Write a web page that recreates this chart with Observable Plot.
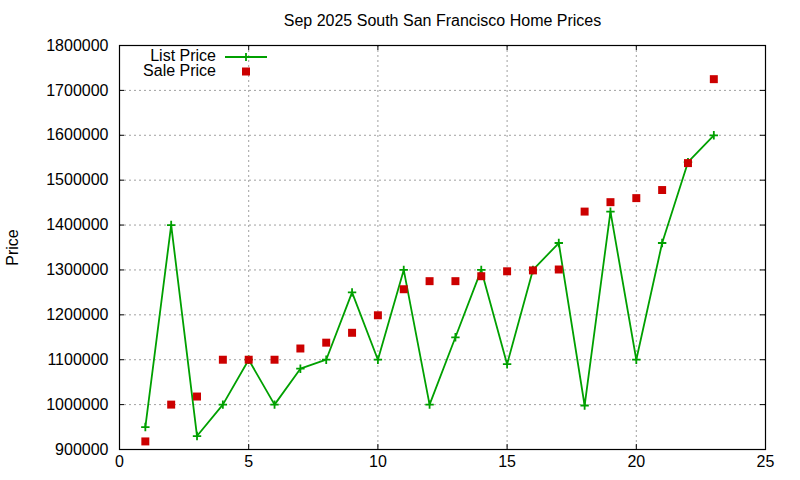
<!DOCTYPE html>
<html>
<head>
<meta charset="utf-8">
<script src="https://cdn.jsdelivr.net/npm/d3@7"></script>
<script src="https://cdn.jsdelivr.net/npm/@observablehq/plot@0.6"></script>
<style>
  html, body { margin: 0; padding: 0; background: #fff; }
  #chart svg { display: block; }
</style>
</head>
<body>
<div id="chart"></div>
<script>
const title = "Sep 2025 South San Francisco Home Prices";
const yLabel = "Price";
const days = [1,2,3,4,5,6,7,8,9,10,11,12,13,14,15,16,17,18,19,20,21,22,23];
const listPrice = [950000,1400000,930000,1000000,1100000,1000000,1080000,1100000,1250000,1100000,1300000,1000000,1150000,1300000,1090000,1300000,1360000,998000,1430000,1100000,1360000,1540000,1600000];
const salePrice = [918000,1000000,1018000,1100000,1100000,1100000,1125000,1138000,1160000,1199000,1257000,1275000,1275000,1286000,1297000,1299000,1301000,1430000,1451000,1460000,1478000,1538000,1725000];
const xTicks = [0,5,10,15,20,25];
const yTicks = [900000,1000000,1100000,1200000,1300000,1400000,1500000,1600000,1700000,1800000];
const seriesNames = ["List Price", "Sale Price"];

const listData = days.map((d, i) => ({day: d, price: listPrice[i]}));
const saleData = days.map((d, i) => ({day: d, price: salePrice[i]}));

const GREEN = "#00a000";
const RED = "#cc0000";

const plusSymbol = {
  draw(context, size) {
    const r = Math.sqrt(size / Math.PI);
    context.moveTo(-r, 0); context.lineTo(r, 0);
    context.moveTo(0, -r); context.lineTo(0, r);
  }
};

const W = 800, H = 480, mL = 119, mR = 35, mT = 45, mB = 31;
const fw = W - mL - mR, fh = H - mT - mB;

const plot = Plot.plot({
  width: W, height: H,
  marginLeft: mL, marginRight: mR, marginTop: mT, marginBottom: mB,
  style: {fontFamily: "'Liberation Sans', Arial, sans-serif", fontSize: "16px", color: "#000", background: "#fff"},
  x: {domain: [0, 25]},
  y: {domain: [900000, 1800000]},
  marks: [
    Plot.gridX(xTicks.slice(1, -1), {stroke: "#a0a0a0", strokeOpacity: 1, strokeDasharray: "2,3"}),
    Plot.gridY(yTicks.slice(1, -1), {stroke: "#a0a0a0", strokeOpacity: 1, strokeDasharray: "2,3"}),
    Plot.ruleX(xTicks, {insetTop: fh - 5, stroke: "#000"}),
    Plot.ruleX(xTicks, {insetBottom: fh - 5, stroke: "#000"}),
    Plot.ruleY(yTicks, {insetRight: fw - 5, stroke: "#000"}),
    Plot.ruleY(yTicks, {insetLeft: fw - 5, stroke: "#000"}),
    Plot.axisX(xTicks, {tickSize: 0, tickPadding: 6, label: null, tickFormat: d => String(d)}),
    Plot.axisY(yTicks, {tickSize: 0, tickPadding: 11, label: null, tickFormat: d => String(d)}),
    Plot.frame({stroke: "#000", strokeWidth: 1.2}),
    Plot.line(listData, {x: "day", y: "price", stroke: GREEN, strokeWidth: 1.8}),
    Plot.dot(listData, {x: "day", y: "price", symbol: plusSymbol, r: 4.2, stroke: GREEN, strokeWidth: 1.8, fill: "none"}),
    Plot.dot(saleData, {x: "day", y: "price", symbol: "square", r: 4.5, fill: RED, stroke: "none"}),
    Plot.text([title], {frameAnchor: "top", lineAnchor: "top", dy: -30.7, fontSize: 16, fill: "#000"}),
    Plot.text([yLabel], {frameAnchor: "left", textAnchor: "middle", lineAnchor: "middle", dx: -107, rotate: -90, fontSize: 16, fill: "#000"})
  ]
});

document.getElementById("chart").appendChild(plot);

// Legend (inside the frame, top-left, gnuplot style)
const svg = d3.select(plot);
const lg = svg.append("g").attr("font-family", "'Liberation Sans', Arial, sans-serif").attr("font-size", 16);
lg.append("text").attr("x", 216).attr("y", 61).attr("text-anchor", "end").attr("fill", "#000").text(seriesNames[0]);
lg.append("text").attr("x", 216).attr("y", 76).attr("text-anchor", "end").attr("fill", "#000").text(seriesNames[1]);
lg.append("line").attr("x1", 225).attr("x2", 267).attr("y1", 57).attr("y2", 57).attr("stroke", GREEN).attr("stroke-width", 1.8);
lg.append("path").attr("d", "M242,57H250M246,53V61").attr("stroke", GREEN).attr("stroke-width", 1.8);
lg.append("rect").attr("x", 242).attr("y", 67.5).attr("width", 8).attr("height", 8).attr("fill", RED);
</script>
</body>
</html>
